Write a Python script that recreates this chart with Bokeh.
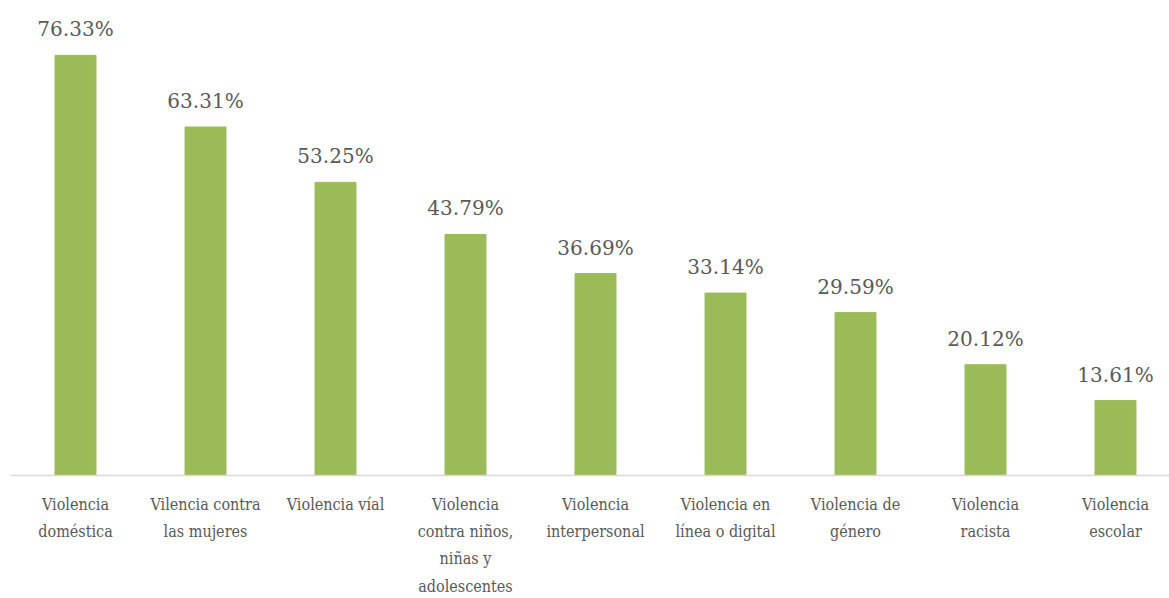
from bokeh.plotting import figure
from bokeh.models import ColumnDataSource, Range1d, FixedTicker
from bokeh.core.properties import value
from bokeh.embed import file_html
from bokeh.resources import INLINE

categories = [
    "Violencia\ndoméstica",
    "Vilencia contra\nlas mujeres",
    "Violencia víal",
    "Violencia\ncontra niños,\nniñas y\nadolescentes",
    "Violencia\ninterpersonal",
    "Violencia en\nlínea o digital",
    "Violencia de\ngénero",
    "Violencia\nracista",
    "Violencia\nescolar",
]
values = [76.33, 63.31, 53.25, 43.79, 36.69, 33.14, 29.59, 20.12, 13.61]
labels = [f"{v:.2f}%" for v in values]

idx = list(range(len(categories)))
src = ColumnDataSource(dict(x=idx, top=values, label=labels))

FONT_V = "DejaVu Serif"
FONT_A = "DejaVu Serif Condensed"
TXT = "#595959"

W, H = 1169, 598
LEFT = 10
PLOT_H = 476

p = figure(width=W, height=H, output_backend="svg", toolbar_location=None,
           x_range=Range1d(-0.5, -0.5 + (W - LEFT) / 130), y_range=Range1d(0, PLOT_H / 5.516),
           min_border_left=LEFT, min_border_right=0, min_border_top=0, min_border_bottom=H - PLOT_H)

p.vbar(x="x", top="top", width=0.315, bottom=0, source=src, color="#9BBB59")
p.text(x="x", y="top", text="label", source=src, text_align="center", text_baseline="bottom",
       y_offset=-14, text_font=value(FONT_V), text_font_size="20px", text_color=TXT)

p.yaxis.visible = False
p.xgrid.visible = False
p.ygrid.visible = False
p.outline_line_color = None
p.background_fill_color = "white"
p.border_fill_color = "white"

ax = p.xaxis[0]
ax.ticker = FixedTicker(ticks=idx)
ax.major_label_overrides = {i: c for i, c in enumerate(categories)}
ax.axis_line_color = "#D9D9D9"
ax.axis_line_width = 1.5
ax.major_tick_line_color = None
ax.minor_tick_line_color = None
ax.major_tick_out = 0
ax.major_tick_in = 0
ax.major_label_standoff = 19
ax.major_label_text_font = FONT_A
ax.major_label_text_font_size = "16px"
ax.major_label_text_color = TXT
ax.major_label_text_line_height = 1.44

open("out.html", "w").write(file_html(p, INLINE))
